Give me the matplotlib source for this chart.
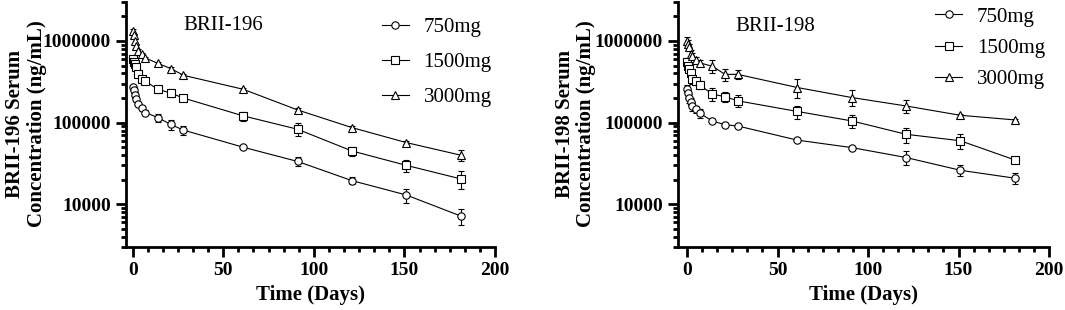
import matplotlib
matplotlib.use("Agg")
import matplotlib.pyplot as plt
from matplotlib.lines import Line2D
from matplotlib.ticker import LogLocator, FixedLocator, NullFormatter, FixedFormatter

plt.rcParams['font.family'] = ['Liberation Serif', 'DejaVu Serif']

days = [0, 0.5, 1, 2, 3, 5, 7, 14, 21, 28, 61, 91, 121, 151, 181]
doses = ['750mg', '1500mg', '3000mg']
markers = ['o', 's', '^']

# BRII-196 mean concentration (ng/mL) and SD
b196_750 = [2.7e5, 2.5e5, 2.2e5, 1.95e5, 1.7e5, 1.5e5, 1.33e5, 1.15e5, 9.5e4, 8.1e4, 5.0e4, 3.35e4, 1.95e4, 1.3e4, 7.2e3]
b196_1500 = [6.0e5, 5.6e5, 5.2e5, 4.8e5, 3.9e5, 3.4e5, 3.2e5, 2.56e5, 2.3e5, 2.0e5, 1.21e5, 8.3e4, 4.5e4, 3.0e4, 2.05e4]
b196_3000 = [1.32e6, 1.17e6, 1.0e6, 8.7e5, 7.6e5, 6.9e5, 6.2e5, 5.3e5, 4.6e5, 3.8e5, 2.56e5, 1.43e5, 8.7e4, 5.7e4, 4.0e4]
b196_750_sd = [2.0e4, 2.0e4, 1.5e4, 1.2e4, 1.0e4, 8e3, 8e3, 1.2e4, 1.3e4, 1.0e4, 2e3, 4e3, 2e3, 2.5e3, 1.6e3]
b196_1500_sd = [6e4, 5e4, 5e4, 4e4, 3e4, 2e4, 2e4, 2.5e4, 2.5e4, 1.5e4, 1.5e4, 1.5e4, 6e3, 5e3, 5e3]
b196_3000_sd = [8e4, 6e4, 5e4, 5e4, 4e4, 2e4, 2e4, 2e4, 1.5e4, 1.5e4, 1e4, 6e3, 3e3, 2e3, 6e3]

# BRII-198 mean concentration (ng/mL) and SD
b198_750 = [2.6e5, 2.3e5, 2.0e5, 1.8e5, 1.6e5, 1.45e5, 1.3e5, 1.05e5, 9.4e4, 9.1e4, 6.1e4, 4.95e4, 3.74e4, 2.61e4, 2.09e4]
b198_1500 = [5.5e5, 4.9e5, 4.5e5, 4.0e5, 3.4e5, 3.2e5, 2.9e5, 2.23e5, 2.08e5, 1.85e5, 1.37e5, 1.05e5, 7.2e4, 6.0e4, 3.5e4]
b198_3000 = [1.0e6, 9.3e5, 8.5e5, 7.0e5, 6.5e5, 5.8e5, 5.4e5, 4.9e5, 3.9e5, 3.9e5, 2.69e5, 2.03e5, 1.6e5, 1.23e5, 1.08e5]
b198_750_sd = [3e4, 3e4, 2.5e4, 2e4, 2e4, 1.5e4, 1.5e4, 5e3, 4e3, 4e3, 2e3, 2e3, 7e3, 4e3, 3e3]
b198_1500_sd = [6e4, 6e4, 5e4, 4e4, 4e4, 3e4, 3e4, 4e4, 3e4, 3e4, 2.5e4, 2e4, 1.5e4, 1.3e4, 2e3]
b198_3000_sd = [1.2e5, 1e5, 8e4, 7e4, 6e4, 5e4, 5e4, 9e4, 7e4, 5e4, 7e4, 4.5e4, 3e4, 5e3, 3e3]

xticks = [0, 50, 100, 150, 200]
yticks = [1e4, 1e5, 1e6]
ytick_labels = ['10000', '100000', '1000000']

panels = [
    dict(name='BRII-196', means=[b196_750, b196_1500, b196_3000],
         sds=[b196_750_sd, b196_1500_sd, b196_3000_sd],
         rect=[126 / 1065, 63 / 310, 369 / 1065, 245 / 310], xmin=-3.7,
         leg_anchor=(0.665, 0.98), leg_space=0.75, title_y=0.906, lab_x=26 / 1065),
    dict(name='BRII-198', means=[b198_750, b198_1500, b198_3000],
         sds=[b198_750_sd, b198_1500_sd, b198_3000_sd],
         rect=[678 / 1065, 63 / 310, 371 / 1065, 245 / 310], xmin=-5.0,
         leg_anchor=(0.665, 1.022), leg_space=0.56, title_y=0.899, lab_x=575.5 / 1065),
]

fig = plt.figure(figsize=(10.65, 3.1), dpi=100)

for p in panels:
    ax = fig.add_axes(p['rect'])
    handles = []
    for label, mk, m, sd in zip(doses, markers, p['means'], p['sds']):
        ax.errorbar(days, m, yerr=sd, marker=mk, color='black', mfc='white', mec='black',
                    ms=5.3, mew=0.8, lw=0.8, elinewidth=0.8, capsize=2.5, capthick=0.8)
        handles.append(Line2D([], [], marker=mk, color='black', mfc='white', mec='black',
                              ms=5.3, mew=0.8, lw=0.8, label=label))
    ax.set_yscale('log')
    ax.set_ylim(3000, 3e6)
    ax.set_xlim(p['xmin'], 200)
    ax.xaxis.set_major_locator(FixedLocator(xticks))
    ax.xaxis.set_minor_locator(FixedLocator([t for i in range(4) for t in
                                             [xticks[i] + k * 50 / 6 for k in range(1, 6)]]))
    ax.yaxis.set_major_locator(FixedLocator(yticks))
    ax.yaxis.set_major_formatter(FixedFormatter(ytick_labels))
    ax.yaxis.set_minor_locator(LogLocator(base=10, subs=range(2, 10), numticks=20))
    ax.yaxis.set_minor_formatter(NullFormatter())
    for s in ['top', 'right']:
        ax.spines[s].set_visible(False)
    for s in ['left', 'bottom']:
        ax.spines[s].set_linewidth(2)
    ax.tick_params(which='major', length=7, width=2, labelsize=14, pad=4)
    ax.tick_params(which='minor', length=3.5, width=2)
    for t in ax.get_xticklabels() + ax.get_yticklabels():
        t.set_fontweight('bold')
    ax.set_xlabel('Time (Days)', fontsize=15, fontweight='bold', labelpad=4)
    ax.text(0.1545, p['title_y'], p['name'], transform=ax.transAxes, fontsize=15,
            ha='left', va='center')
    fig.text(p['lab_x'], 1 - 124 / 310, p['name'] + ' Serum\nConcentration (ng/mL)',
             rotation=90, ha='center', va='center', fontsize=15, fontweight='bold',
             multialignment='center', linespacing=1.1)
    ax.legend(handles=handles, loc='upper left', bbox_to_anchor=p['leg_anchor'],
              frameon=False, fontsize=15, handlelength=1.3, handletextpad=0.7,
              labelspacing=p['leg_space'], borderpad=0)

fig.savefig('out.png', dpi=100)
